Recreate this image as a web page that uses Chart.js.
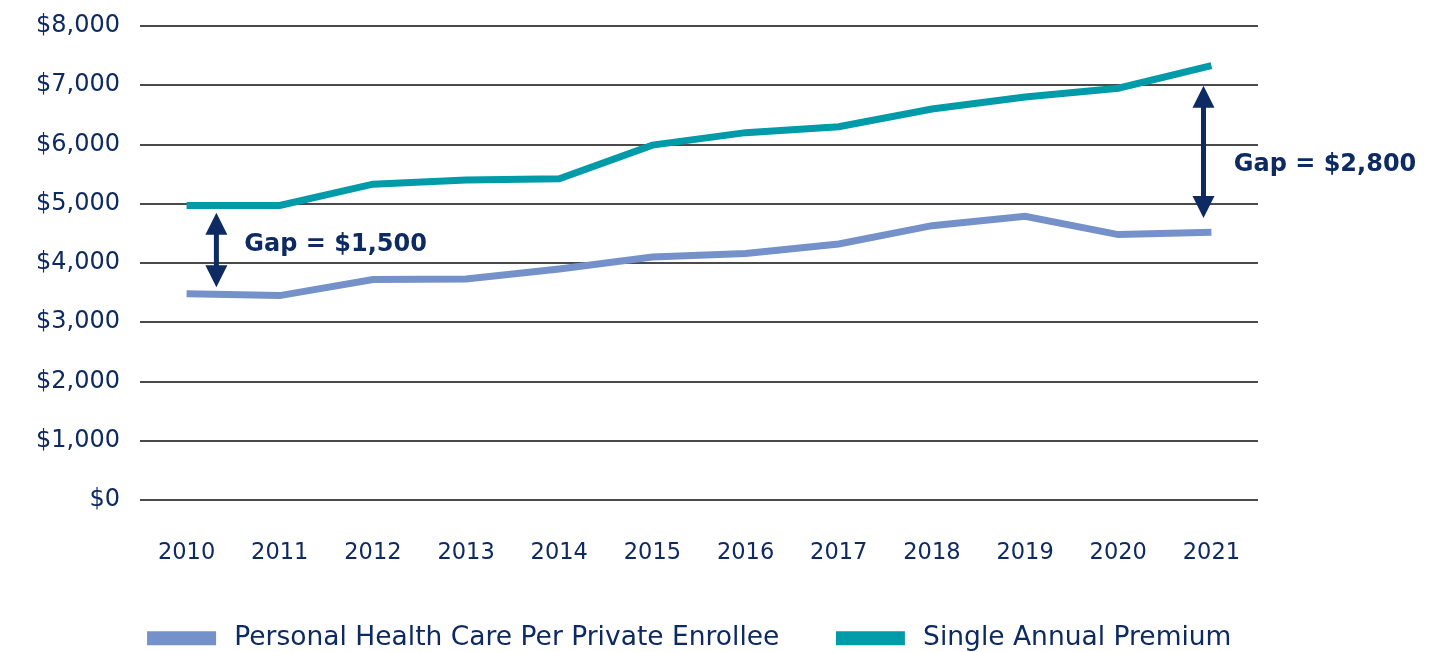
<!DOCTYPE html>
<html>
<head>
<meta charset="utf-8">
<script src="https://cdn.jsdelivr.net/npm/chart.js@4/dist/chart.umd.min.js"></script>
<style>
  html, body { margin: 0; padding: 0; background: #fff; }
  #wrap { width: 1444px; height: 652px; }
</style>
</head>
<body>
<div id="wrap"><canvas id="myChart" width="1444" height="652"></canvas></div>
<script>
const years = ['2010', '2011', '2012', '2013', '2014', '2015', '2016', '2017', '2018', '2019', '2020', '2021'];
const healthCare = [3480, 3450, 3720, 3730, 3900, 4100, 4160, 4320, 4630, 4790, 4480, 4520];
const premium = [4970, 4970, 5330, 5400, 5420, 5990, 6200, 6300, 6600, 6800, 6950, 7330];
const yTicks = [0, 1000, 2000, 3000, 4000, 5000, 6000, 7000, 8000];

// gap arrows: x as fractional category index, y in dollars
const gaps = [
    { label: 'Gap = $1,500', x: 0.32, top: 4850, bottom: 3590, textX: 0.62, textY: 4300 },
    { label: 'Gap = $2,800', x: 10.915, top: 6990, bottom: 4760, textX: 11.24, textY: 5650 },
];

const navy = '#0d2a62';
const font = "'DejaVu Sans', sans-serif";

const gapPlugin = {
    id: 'gapArrows',
    afterDatasetsDraw(chart) {
        const ctx = chart.ctx;
        const xs = chart.scales.x;
        const ys = chart.scales.y;
        ctx.save();
        gaps.forEach(g => {
            const x = xs.getPixelForValue(g.x);
            const y1 = ys.getPixelForValue(g.top);
            const y2 = ys.getPixelForValue(g.bottom);
            const head = 22;
            const half = 11;
            ctx.strokeStyle = navy;
            ctx.fillStyle = navy;
            ctx.lineWidth = 5;
            ctx.beginPath();
            ctx.moveTo(x, y1 + head - 2);
            ctx.lineTo(x, y2 - head + 2);
            ctx.stroke();
            ctx.beginPath();
            ctx.moveTo(x, y1);
            ctx.lineTo(x - half, y1 + head);
            ctx.lineTo(x + half, y1 + head);
            ctx.closePath();
            ctx.fill();
            ctx.beginPath();
            ctx.moveTo(x, y2);
            ctx.lineTo(x - half, y2 - head);
            ctx.lineTo(x + half, y2 - head);
            ctx.closePath();
            ctx.fill();
            ctx.font = "bold 24px " + font;
            ctx.textAlign = 'left';
            ctx.textBaseline = 'middle';
            ctx.fillText(g.label, xs.getPixelForValue(g.textX), ys.getPixelForValue(g.textY));
        });
        ctx.restore();
    }
};

const data = {
    labels: years,
    datasets: [{
        label: 'Personal Health Care Per Private Enrollee',
        data: healthCare,
        borderColor: '#7591ca',
        backgroundColor: '#7591ca',
        borderWidth: 7,
        pointRadius: 0,
        tension: 0,
    }, {
        label: 'Single Annual Premium',
        data: premium,
        borderColor: '#009ba8',
        backgroundColor: '#009ba8',
        borderWidth: 7,
        pointRadius: 0,
        tension: 0,
    }]
};

const config = {
    type: 'line',
    data: data,
    options: {
        responsive: false,
        animation: false,
        layout: { padding: { left: 0, right: 62, top: 26, bottom: 0 } },
        plugins: {
            tooltip: { enabled: false },
            legend: {
                position: 'bottom',
                maxHeight: 87,
                labels: {
                    boxWidth: 62,
                    boxHeight: 7,
                    padding: 60,
                    color: navy,
                    font: { family: font, size: 26.5 },
                    generateLabels(chart) {
                        const items = Chart.defaults.plugins.legend.labels.generateLabels(chart);
                        items.forEach(it => { it.text = ' ' + it.text; });
                        return items;
                    }
                }
            }
        },
        scales: {
            x: {
                offset: true,
                grid: { display: false },
                border: { display: false },
                ticks: { color: navy, font: { family: font, size: 22.5 }, padding: 32, maxRotation: 0 },
                afterFit(scale) { scale.height = 65; }
            },
            y: {
                min: 0,
                max: 8000,
                afterBuildTicks(scale) { scale.ticks = yTicks.map(v => ({ value: v })); },
                grid: { color: '#4a4a4a', lineWidth: 2, drawTicks: false },
                border: { display: false },
                ticks: {
                    color: navy,
                    font: { family: font, size: 24 },
                    padding: 20,
                    callback: v => '$' + v.toLocaleString('en-US'),
                },
                afterFit(scale) {
                    scale.width = 140;
                    scale.paddingTop = 0;
                    scale.paddingBottom = 0;
                }
            },
            // empty right margin for the gap label
            yRight: {
                position: 'right',
                min: 0,
                max: 8000,
                grid: { display: false },
                border: { display: false },
                ticks: { display: false },
                afterFit(scale) {
                    scale.width = 124;
                    scale.paddingTop = 0;
                    scale.paddingBottom = 0;
                }
            }
        }
    },
    plugins: [gapPlugin]
};

const myChart = new Chart(document.getElementById('myChart'), config);
</script>
</body>
</html>
